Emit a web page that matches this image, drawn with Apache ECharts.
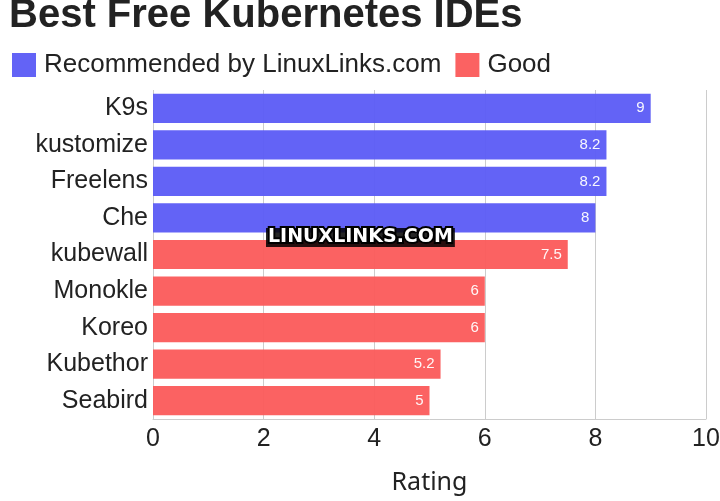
<!DOCTYPE html>
<html>
	<head>
		<meta charset="utf-8" />
		<title>Best Free Kubernetes IDEs</title>
		<script src="https://cdn.jsdelivr.net/npm/echarts@6/dist/echarts.min.js"></script>
		<style>
			html, body { margin: 0; padding: 0; background: #fff; }
			#chart { width: 720px; height: 501px; }
		</style>
	</head>
	<body>
		<div id="chart"></div>
		<script>
			// 数据
			var categories = ['K9s', 'kustomize', 'Freelens', 'Che', 'kubewall', 'Monokle', 'Koreo', 'Kubethor', 'Seabird'];
			var recommended = [9, 8.2, 8.2, 8, '-', '-', '-', '-', '-'];
			var good = ['-', '-', '-', '-', 7.5, 6, 6, 5.2, 5];
			var xTicks = [0, 2, 4, 6, 8, 10];

			var chart = echarts.init(document.getElementById('chart'));
			var barLabel = {
				show: true,
				position: 'insideRight',
				color: '#fff',
				fontSize: 15,
				fontFamily: 'Liberation Sans',
				distance: 6
			};
			var option = {
				animation: false,
				title: {
					text: 'Best Free Kubernetes IDEs',
					left: 4,
					top: -9,
					textStyle: { fontSize: 40, fontWeight: 'bold', color: '#222', fontFamily: 'Liberation Sans' }
				},
				legend: {
					left: 7,
					top: 47,
					itemWidth: 24,
					itemHeight: 24,
					itemGap: 14,
					icon: 'rect',
					textStyle: { fontSize: 26, color: '#222', fontFamily: 'Liberation Sans', padding: [0, 0, 0, 3] },
					data: ['Recommended by LinuxLinks.com', 'Good']
				},
				grid: { left: 153, right: 14, top: 90, bottom: 82, outerBoundsMode: 'none', containLabel: false },
				xAxis: {
					type: 'value',
					min: 0, max: 10, interval: 2,
					name: 'Rating',
					nameLocation: 'middle',
					nameGap: 51,
					nameTextStyle: { fontSize: 25, color: '#222', fontFamily: 'Noto Sans' },
					axisLine: { show: true, lineStyle: { color: '#ccc' } },
					axisTick: { show: false },
					splitLine: { lineStyle: { color: '#ccc' } },
					axisLabel: {
						fontSize: 25, color: '#222', margin: 8, fontFamily: 'Liberation Sans',
						formatter: function (v) { return xTicks.indexOf(v) >= 0 ? String(v) : ''; }
					}
				},
				yAxis: {
					type: 'category',
					inverse: true,
					data: categories,
					axisLine: { show: false },
					axisTick: { show: false },
					axisLabel: { fontSize: 25, color: '#222', margin: 5, fontFamily: 'Liberation Sans' }
				},
				series: [
					{
						name: 'Recommended by LinuxLinks.com',
						type: 'bar',
						stack: 'a',
						barWidth: '80%',
						data: recommended,
						itemStyle: { color: '#5b5bf6', opacity: 0.95 },
						label: barLabel
					},
					{
						name: 'Good',
						type: 'bar',
						stack: 'a',
						barWidth: '80%',
						data: good,
						itemStyle: { color: '#fb5a5a', opacity: 0.95 },
						label: barLabel
					}
				],
				graphic: [{
					type: 'text',
					left: 266,
					top: 226,
					z: 100,
					style: {
						text: 'LINUXLINKS.COM',
						fill: '#fff',
						stroke: '#000',
						lineWidth: 4,
						font: 'bold 19px "DejaVu Sans"',
						backgroundColor: 'rgba(0,0,0,0.85)',
						padding: [0, 2, 0, 2]
					}
				}]
			};
			chart.setOption(option);
		</script>
	</body>
</html>
